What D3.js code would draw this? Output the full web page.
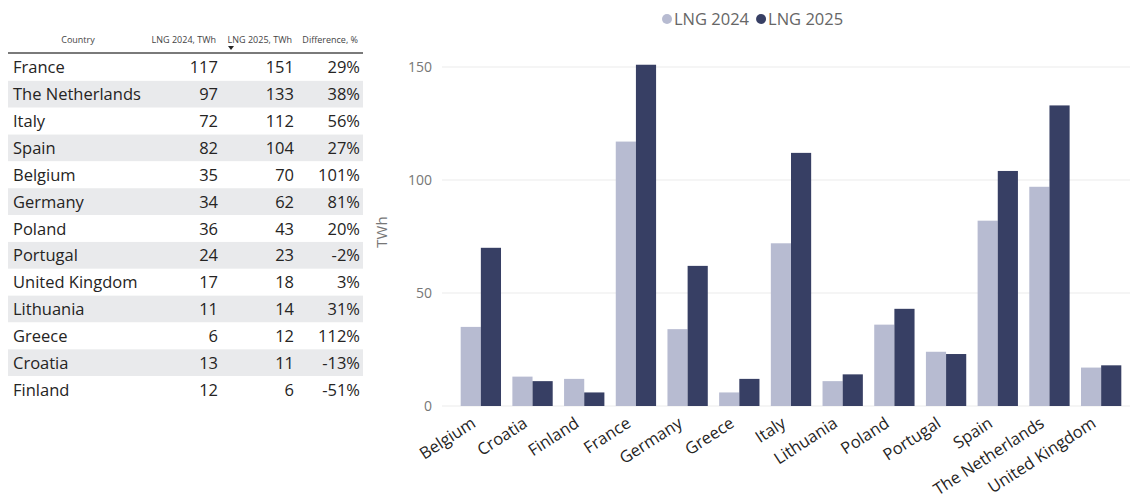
<!DOCTYPE html>
<html>
<head>
<meta charset="utf-8">
<script src="https://cdn.jsdelivr.net/npm/d3@7/dist/d3.min.js"></script>
<style>
  html, body { margin: 0; padding: 0; background: #ffffff; }
  svg { display: block; font-family: "Open Sans", "Noto Sans", sans-serif; }
</style>
</head>
<body>
<svg id="chart" width="1135" height="502"></svg>
<script>
// ---- data ----
const tableCountries = ["France", "The Netherlands", "Italy", "Spain", "Belgium", "Germany",
  "Poland", "Portugal", "United Kingdom", "Lithuania", "Greece", "Croatia", "Finland"];
const lng2024 = [117, 97, 72, 82, 35, 34, 36, 24, 17, 11, 6, 13, 12];
const lng2025 = [151, 133, 112, 104, 70, 62, 43, 23, 18, 14, 12, 11, 6];
const differencePct = ["29%", "38%", "56%", "27%", "101%", "81%", "20%", "-2%", "3%", "31%", "112%", "-13%", "-51%"];
const tableHeaders = ["Country", "LNG 2024, TWh", "LNG 2025, TWh", "Difference, %"];
const seriesNames = ["LNG 2024", "LNG 2025"];
const yTicks = [0, 50, 100, 150];
const yLabel = "TWh";

const colors = { "LNG 2024": "#b7bbd1", "LNG 2025": "#373f64" };

const svg = d3.select("#chart");

// ---- table ----
const table = svg.append("g");
const rowH = 26.85, firstRowTop = 54;
const colRight = [null, 218, 294, 360];

table.selectAll("rect.row").data(tableCountries).join("rect")
  .attr("x", 8).attr("width", 355)
  .attr("y", (d, i) => firstRowTop + i * rowH).attr("height", rowH)
  .attr("fill", (d, i) => i % 2 === 1 ? "#e9eaec" : "#ffffff");

// header
table.append("text").attr("x", 78).attr("y", 43).attr("text-anchor", "middle")
  .attr("font-size", 9).attr("fill", "#444").text(tableHeaders[0]);
[1, 2, 3].forEach(c => {
  table.append("text").attr("x", colRight[c] - 2).attr("y", 43).attr("text-anchor", "end")
    .attr("font-size", 9).attr("fill", "#444").text(tableHeaders[c]);
});
// sort indicator
table.append("path").attr("d", "M228,46 L234,46 L231,50 Z").attr("fill", "#252423");
table.append("line").attr("x1", 8).attr("x2", 363).attr("y1", 53).attr("y2", 53)
  .attr("stroke", "#7a7a7a").attr("stroke-width", 2);

const rows = table.selectAll("g.r").data(tableCountries).join("g")
  .attr("transform", (d, i) => `translate(0,${firstRowTop + i * rowH + rowH / 2 + 6})`);
const cellFont = 16.5;
rows.append("text").attr("x", 13).attr("font-size", cellFont).attr("fill", "#252423").text(d => d);
rows.append("text").attr("x", colRight[1]).attr("text-anchor", "end").attr("font-size", cellFont)
  .attr("fill", "#252423").text((d, i) => lng2024[i]);
rows.append("text").attr("x", colRight[2]).attr("text-anchor", "end").attr("font-size", cellFont)
  .attr("fill", "#252423").text((d, i) => lng2025[i]);
rows.append("text").attr("x", colRight[3]).attr("text-anchor", "end").attr("font-size", cellFont)
  .attr("fill", "#252423").text((d, i) => differencePct[i]);

// ---- bar chart ----
const chartData = tableCountries.map((c, i) => ({ country: c, v2024: lng2024[i], v2025: lng2025[i] }))
  .sort((a, b) => d3.ascending(a.country, b.country));

const x = d3.scaleBand().domain(chartData.map(d => d.country))
  .range([455, 1127]).paddingInner(0.22).paddingOuter(0.11);
const xs = d3.scaleBand().domain(seriesNames).range([0, x.bandwidth()]);
const y = d3.scaleLinear().domain([0, 150]).range([406, 67]);

const chart = svg.append("g");

// grid + y labels
const yAxis = d3.axisLeft(y).tickValues(yTicks).tickSize(0).tickPadding(0);
const yG = chart.append("g").attr("transform", "translate(432,0)").call(yAxis);
yG.select(".domain").remove();
yG.selectAll("text").attr("font-size", 14).attr("fill", "#777").attr("font-family", "Open Sans, sans-serif")
  .attr("dy", "0.35em");
chart.append("g").selectAll("line").data(yTicks).join("line")
  .attr("x1", 442).attr("x2", 1130).attr("y1", d => y(d)).attr("y2", d => y(d))
  .attr("stroke", "#ebebeb").attr("stroke-width", 1);

chart.append("text").attr("transform", "translate(387,232) rotate(-90)")
  .attr("text-anchor", "middle").attr("font-size", 15).attr("fill", "#777").text(yLabel);

// bars
const groups = chart.append("g").selectAll("g").data(chartData).join("g")
  .attr("transform", d => `translate(${x(d.country)},0)`);
groups.selectAll("rect").data(d => [
  { s: "LNG 2024", v: d.v2024 }, { s: "LNG 2025", v: d.v2025 }
]).join("rect")
  .attr("x", d => xs(d.s)).attr("width", xs.bandwidth())
  .attr("y", d => y(d.v)).attr("height", d => y(0) - y(d.v))
  .attr("fill", d => colors[d.s]);

// x labels
const xAxis = d3.axisBottom(x).tickSize(0).tickPadding(0);
const xG = chart.append("g").attr("transform", "translate(0,406)").call(xAxis);
xG.select(".domain").remove();
xG.selectAll("text")
  .attr("font-size", 16.5).attr("fill", "#252423").attr("font-family", "Open Sans, sans-serif")
  .attr("text-anchor", "end").attr("dy", null).attr("y", 0)
  .attr("transform", "translate(-4,20) rotate(-33)");

// legend
const legend = svg.append("g").attr("transform", "translate(667,19)");
let lx = 0;
seriesNames.forEach(s => {
  legend.append("circle").attr("cx", lx).attr("cy", 0).attr("r", 5).attr("fill", colors[s]);
  const t = legend.append("text").attr("x", lx + 7).attr("y", 6).attr("font-size", 16.5)
    .attr("fill", "#666").text(s);
  lx += t.node().getComputedTextLength() + 19;
});
</script>
</body>
</html>
